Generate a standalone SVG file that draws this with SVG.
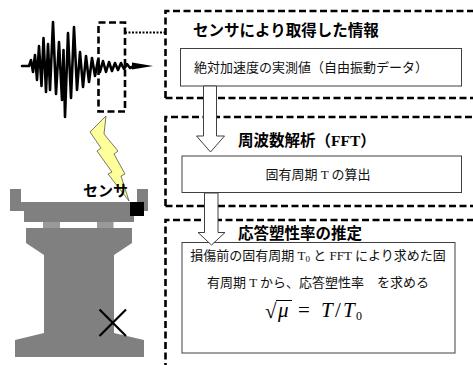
<svg xmlns="http://www.w3.org/2000/svg" width="473" height="365" viewBox="0 0 473 365">
  <style>
    .dash { fill: none; stroke: #000; stroke-width: 2.6; stroke-dasharray: 7 3.5; }
    .box { fill: #fff; stroke: #404040; stroke-width: 1; }
    .arrow { fill: #fff; stroke: #404040; stroke-width: 1; }
    .title { font-family: "Liberation Serif", "Noto Sans CJK JP", serif; font-weight: bold; font-size: 15.5px; fill: #000; }
    .body { font-family: "Liberation Serif", "Noto Sans CJK JP", serif; font-size: 13px; fill: #111; }
    .math { font-family: "Liberation Serif", serif; font-size: 21px; fill: #000; }
    .pier { fill: #808080; }
  </style>
  <rect width="473" height="365" fill="#fff"/>

  <!-- seismic record -->
  <g id="waveform">
    <path d="M22,66 L29,66 L31,60 L33,72 L35,55 L37,80 L39,46 L41.5,86 L43.5,38 L46,92 L48,44 L50,90 L53,22 L56,94 L59,42 L62,100 L63.5,50 L65,117 L68,33 L71,98 L74,27 L77,90 L80,52 L83,87 L86,56 L89,82 L92,58 L95,76 L98,60 L100,72 L103,61 L106,72 L109,62 L112,71 L115,63 L118,70 L121,63 L124,69 L127,64 L130,68 L134,66" fill="none" stroke="#000" stroke-width="2.6" stroke-linejoin="round" stroke-linecap="round"/>
    <polygon points="132,62.5 153,66 132,69.5" fill="#000"/>
    <rect x="98.5" y="22.5" width="26.5" height="89" class="dash"/>
  </g>

  <!-- bridge pier with sensor -->
  <g id="pier">
    <polygon class="pier" points="10,189 21,189 21,202 137,202 137,189 148,189 148,211 134,211 134,222 24,222 24,211 10,211"/>
    <rect x="43" y="222" width="17" height="6" fill="#999"/>
    <rect x="97" y="222" width="16.5" height="6" fill="#999"/>
    <polygon class="pier" points="26,228 132,228 132,243 114,255 114,333 144,340 144,357 15,357 15,340 44,333 44,255 26,243"/>
    <path d="M99.5,309.5 L126,336 M126,309.5 L99.5,336" stroke="#000" stroke-width="2.2"/>
  </g>

  <g id="sensor">
    <polygon points="106,116 90,132 101,148 97,151 112,172 108,174 129,201 121,176 125,174 114,154 118,151 104,134" fill="#ffff99" stroke="#555" stroke-width="0.8" stroke-linejoin="round"/>
    <text x="83" y="196" font-family="'Noto Sans CJK JP', sans-serif" font-weight="bold" font-size="15" fill="#000">センサ</text>
    <rect x="130" y="202" width="14" height="14" fill="#000"/>
  </g>

  <!-- processing steps -->
  <g id="step1">
    <path class="dash" d="M165.5,98 V11 H480 M165.5,98 H480"/>
    <text class="title" x="193" y="36">センサにより取得した情報</text>
    <rect class="box" x="180.5" y="48.5" width="281" height="37.5"/>
    <text class="body" x="311" y="72" text-anchor="middle">絶対加速度の実測値（自由振動データ）</text>
  </g>

  <g id="step2">
    <path class="dash" d="M165.5,206 V117 H480 M165.5,206 H480"/>
    <text class="title" x="238" y="146">周波数解析（FFT）</text>
    <rect class="box" x="182" y="156" width="279.5" height="36.5"/>
    <text class="body" x="318" y="179" text-anchor="middle">固有周期 T の算出</text>
  </g>

  <g id="step3">
    <path class="dash" d="M165.5,370 V220 H480"/>
    <text class="title" x="238" y="239">応答塑性率の推定</text>
    <rect class="box" x="182" y="242.5" width="273" height="110.5"/>
    <text class="body" x="318" y="260" text-anchor="middle">損傷前の固有周期 T<tspan font-size="9" dy="2">0</tspan><tspan dy="-2"> と FFT により求めた固</tspan></text>
    <text class="body" x="318" y="287" text-anchor="middle">有周期 T から、応答塑性率　を求める</text>
    <g class="math">
      <text x="265" y="318">√</text>
      <line x1="276" y1="300.5" x2="292" y2="300.5" stroke="#000" stroke-width="1"/>
      <text x="278" y="317" font-style="italic">μ</text>
      <text x="298" y="317">=</text>
      <text x="321" y="317" font-style="italic">T</text>
      <text x="335" y="317">/</text>
      <text x="343" y="317" font-style="italic">T</text>
      <text x="356" y="320" font-size="12">0</text>
    </g>
  </g>

  <!-- connectors -->
  <g id="connectors">
    <path d="M125,32.5 H165" stroke="#000" stroke-width="2" stroke-dasharray="2 1.5" fill="none"/>
    <polygon class="arrow" points="203.5,86 216.5,86 216.5,136 224.5,136 210.5,152 196.5,136 203.5,136"/>
    <polygon class="arrow" points="204.5,193 218,193 218,232.5 225,232.5 211.5,245 198,232.5 204.5,232.5"/>
  </g>
</svg>
